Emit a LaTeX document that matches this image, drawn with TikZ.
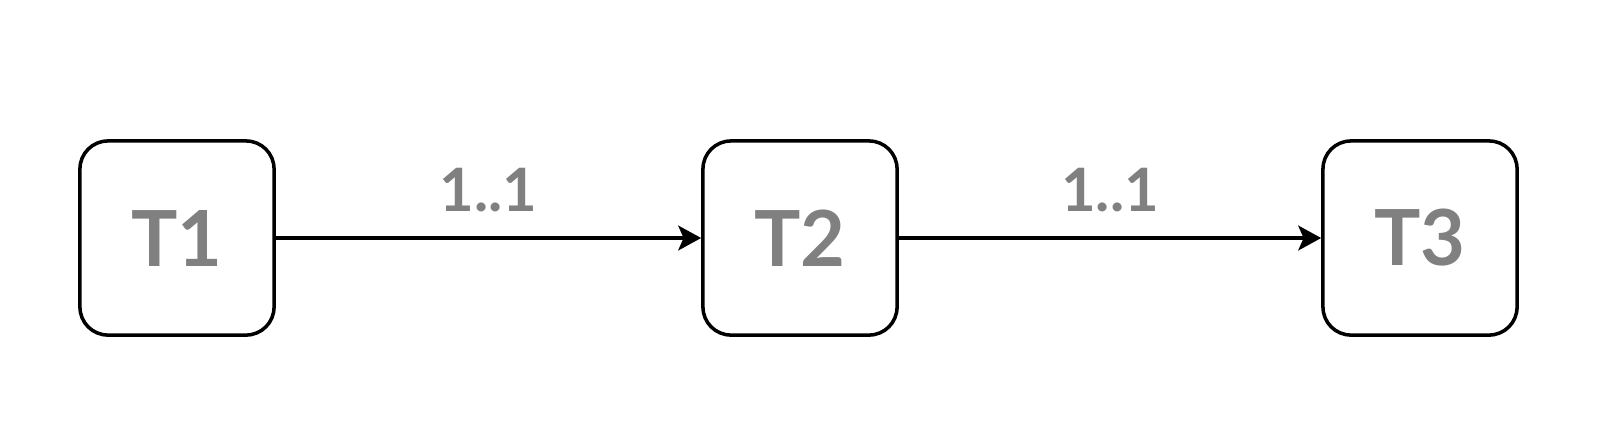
\documentclass[tikz,border=0pt]{standalone}
\usepackage{fontspec}
\setmainfont{Lato}
\usetikzlibrary{arrows.meta}
\definecolor{labelgray}{RGB}{128,128,128}
\begin{document}
\begin{tikzpicture}[x=0.01cm, y=0.01cm, line join=round, line cap=round, >={Stealth[length=6.5pt,width=7pt,inset=1.5pt]},
	tablebox/.style={draw, line width=1pt, rounded corners=0.28cm, minimum size=1.94cm, inner sep=0pt, text=labelgray, font=\fontsize{22}{26}\selectfont\bfseries},
	card/.style={text=labelgray, inner sep=0pt, font=\fontsize{17}{20}\selectfont\bfseries}]
	\useasboundingbox (0,0) rectangle (1604,447);
	%%%%%%%%%%%%%%%%%%%%%%%%%%%%%%%%%
	\node[tablebox] (T1) at (177,209) {T1};
	\node[tablebox] (T2) at (800,209) {T2};
	\node[tablebox] (T3) at (1420,209) {T3};
	%%%%%%%%%%%%%%%%%%%%%%%%%%%%%%%%%
	\draw[->, line width=1.2pt] (T1) -- (T2) node[card, midway, above=0.24cm] {1..1};
	\draw[->, line width=1.2pt] (T2) -- (T3) node[card, midway, above=0.24cm] {1..1};
	%%%%%%%%%%%%%%%%%%%%%%%%%%%%%%%%%
\end{tikzpicture}
\end{document}
